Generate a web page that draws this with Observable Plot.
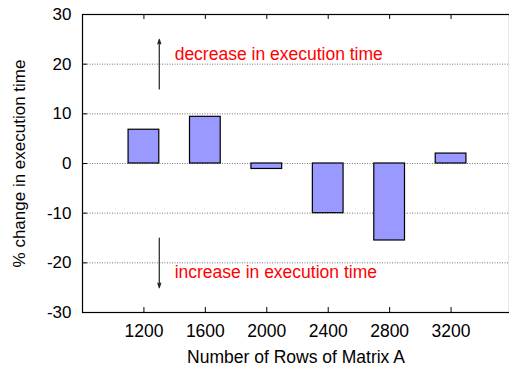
<!DOCTYPE html>
<html>
<head>
<meta charset="utf-8">
<script src="https://cdn.jsdelivr.net/npm/d3@7"></script>
<script src="https://cdn.jsdelivr.net/npm/@observablehq/plot@0.6"></script>
<style>
  html, body { margin: 0; padding: 0; background: white; overflow: hidden; }
  #chart { width: 509px; height: 372px; overflow: hidden; }
  svg { font-family: "Liberation Sans", Arial, Helvetica, sans-serif; }
</style>
</head>
<body>
<div id="chart"></div>
<script>
// Data
const rows = [1200, 1600, 2000, 2400, 2800, 3200];
const pctChange = [6.8, 9.4, -1.1, -10.0, -15.5, 2.0];
const xTicks = [1200, 1600, 2000, 2400, 2800, 3200];
const yTicks = [-30, -20, -10, 0, 10, 20, 30];
const gridLevels = [-20, -10, 0, 10, 20];
const annotations = [
  {x: 1400, y: 22, text: "decrease in execution time"},
  {x: 1400, y: -22, text: "increase in execution time"}
];
const arrows = [
  {x: 1300, y1: 15, y2: 25},
  {x: 1300, y1: -15, y2: -25}
];
const barHalfWidth = 100;

const bars = rows.map((r, i) => ({x1: r - barHalfWidth, x2: r + barHalfWidth, v: pctChange[i]}));

const chart = Plot.plot({
  width: 509,
  height: 372,
  marginLeft: 82,
  marginTop: 14,
  marginBottom: 60,
  marginRight: 0,
  style: {fontFamily: '"Liberation Sans", Arial, sans-serif', fontSize: "17px", color: "black", background: "white"},
  x: {domain: [800, 3600], range: [82, 512]},
  y: {domain: [-30, 30]},
  marks: [
    Plot.ruleY(gridLevels, {stroke: "#777", strokeDasharray: "1,1.5", strokeWidth: 1}),
    // inward tick marks
    Plot.ruleX(xTicks, {y1: -30, y2: -29, stroke: "black"}),
    Plot.ruleX(xTicks, {y1: 30, y2: 29, stroke: "black"}),
    Plot.ruleY(yTicks, {x1: 800, x2: 832, stroke: "black"}),
    Plot.rect(bars, {x1: "x1", x2: "x2", y1: 0, y2: "v", fill: "#9999ff", stroke: "black", strokeWidth: 1.2}),
    Plot.arrow(arrows, {x1: "x", x2: "x", y1: "y1", y2: "y2", stroke: "#222", strokeWidth: 1.2, headLength: 6, headAngle: 35}),
    Plot.text(annotations, {x: "x", y: "y", text: "text", textAnchor: "start", fill: "#ff0000", fontSize: 17.5}),
    Plot.frame({stroke: "black", strokeWidth: 1.2}),
    Plot.axisX(xTicks, {tickSize: 0, tickPadding: 12, fontSize: 17, tickFormat: d => String(d), label: "Number of Rows of Matrix A", labelAnchor: "center", labelArrow: "none", labelOffset: 50, fontSize: 17.5}),
    Plot.axisY(yTicks, {tickSize: 0, tickPadding: 11, fontSize: 17, tickFormat: d => String(d), label: "% change in execution time", labelAnchor: "center", labelArrow: "none", labelOffset: 70})
  ]
});
document.getElementById("chart").appendChild(chart);
</script>
</body>
</html>
